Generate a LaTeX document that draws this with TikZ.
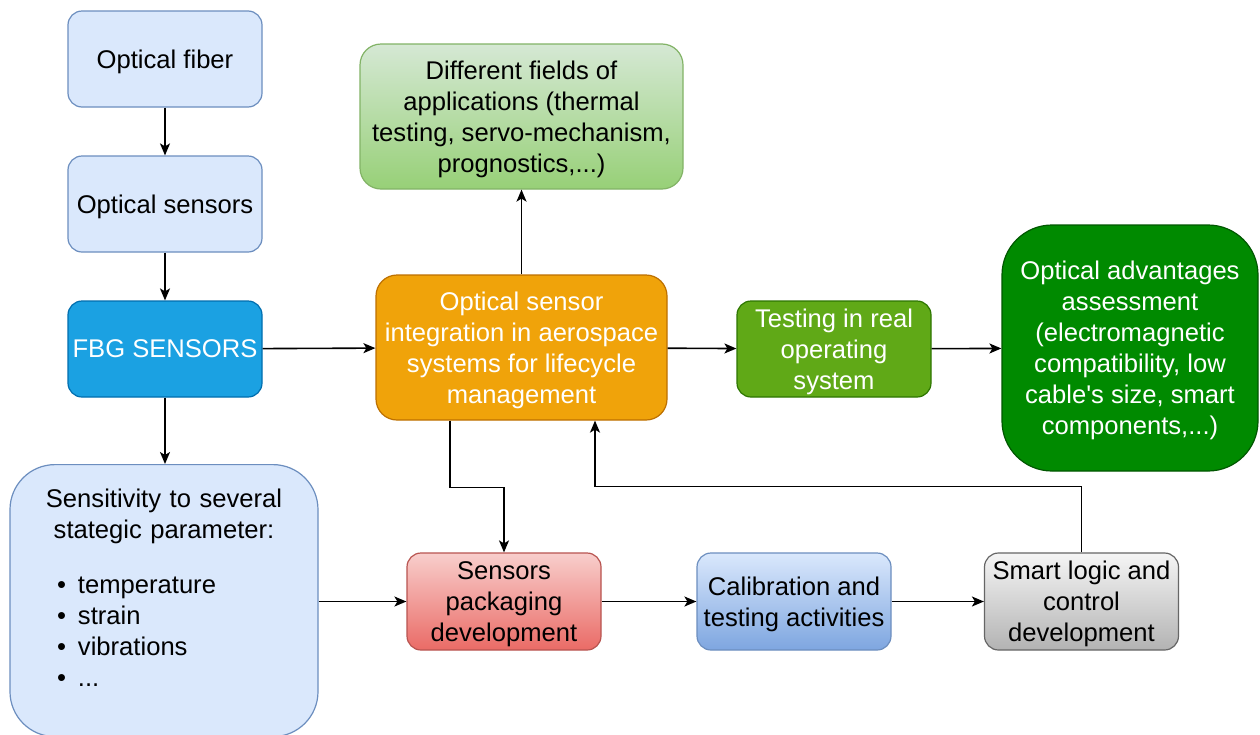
\documentclass[tikz,border=0pt]{standalone}
\usepackage{fontspec}
\setmainfont{Liberation Sans}
\usepackage{xcolor}
\usepackage{tikz}
\usetikzlibrary{arrows.meta, positioning}
\definecolor{paleblue}{HTML}{DAE8FC}
\definecolor{blueline}{HTML}{6C8EBF}
\definecolor{deepblue}{HTML}{7EA6E0}
\definecolor{fbgblue}{HTML}{1BA1E2}
\definecolor{fbgline}{HTML}{006EAF}
\definecolor{palegreen}{HTML}{D5E8D4}
\definecolor{midgreen}{HTML}{97D077}
\definecolor{greenline}{HTML}{82B366}
\definecolor{orange}{HTML}{F0A30A}
\definecolor{orangeline}{HTML}{BD7000}
\definecolor{lime}{HTML}{60A917}
\definecolor{limeline}{HTML}{2D7600}
\definecolor{darkgreen}{HTML}{008A00}
\definecolor{darkgreenline}{HTML}{005700}
\definecolor{palered}{HTML}{F8CECC}
\definecolor{midred}{HTML}{EA6B66}
\definecolor{redline}{HTML}{B85450}
\definecolor{palegrey}{HTML}{F5F5F5}
\definecolor{midgrey}{HTML}{B3B3B3}
\definecolor{greyline}{HTML}{666666}
\newcommand{\boxfont}{\fontsize{25.6pt}{31pt}\selectfont}
\tikzset{
    box/.style={rectangle, rounded corners=14pt, minimum width=194pt, minimum height=96pt, text centered, draw, line width=1.2pt, align=center, inner sep=2pt, text depth=0pt, font=\boxfont},
    bigbox/.style={box, rounded corners=21pt, minimum height=145pt},
    sensbox/.style={rectangle, rounded corners=45pt, minimum width=308pt, minimum height=272pt, text width=308pt, inner sep=0pt, align=left, draw, line width=1.2pt, font=\boxfont, fill=paleblue, draw=blueline},
    flow/.style={-{Stealth[length=12pt, width=10pt, inset=3pt]}, line width=1.6pt}
}
\begin{document}
\begin{tikzpicture}[x=1pt, y=-1pt]
    \fill[white] (0,0) rectangle (1260,734);
    \useasboundingbox (0,0) rectangle (1260,734);

    % Sensor chain
    \node[box, fill=paleblue, draw=blueline] (fiber) at (165,59) {Optical fiber};
    \node[box, fill=paleblue, draw=blueline] (osens) at (165,204) {Optical sensors};
    \node[box, fill=fbgblue, draw=fbgline, text=white] (fbg) at (165,349) {FBG SENSORS};
    \node[sensbox, anchor=north] (sens) at (164,464) {%
        {\centering Sensitivity to several\\ stategic parameter:\par}%
        \vspace{24pt}%
        \hspace*{47pt}\makebox[21pt][l]{\textbullet}temperature\\
        \hspace*{47pt}\makebox[21pt][l]{\textbullet}strain\\
        \hspace*{47pt}\makebox[21pt][l]{\textbullet}vibrations\\
        \hspace*{47pt}\makebox[21pt][l]{\textbullet}...\par
        \vspace{-5pt}\mbox{}};

    % Integration and results
    \node[bigbox, fill=orange, draw=orangeline, text=white, minimum width=291pt] (integ) at (521.5,347.5) {Optical sensor\\ integration in aerospace\\ systems for lifecycle\\ management};
    \node[bigbox, top color=palegreen, bottom color=midgreen, draw=greenline, minimum width=323pt] (fields) at (521.5,116.5) {Different fields of\\ applications (thermal\\ testing, servo-mechanism,\\ prognostics,...)};
    \node[box, fill=lime, draw=limeline, text=white] (test) at (834,349) {Testing in real\\ operating\\ system};
    \node[box, rounded corners=50pt, fill=darkgreen, draw=darkgreenline, text=white, minimum width=256pt, minimum height=246pt] (adv) at (1130,348) {Optical advantages\\ assessment\\ (electromagnetic\\ compatibility, low\\ cable\textquotesingle s size, smart\\ components,...)};

    % Development steps
    \node[box, top color=palered, bottom color=midred, draw=redline, minimum height=97pt] (pack) at (504,601.5) {Sensors\\ packaging\\ development};
    \node[box, top color=paleblue, bottom color=deepblue, draw=blueline, minimum height=97pt] (calib) at (794,601.5) {Calibration and\\ testing activities};
    \node[box, top color=palegrey, bottom color=midgrey, draw=greyline, minimum height=97pt] (smart) at (1081.5,601.5) {Smart logic and\\ control\\ development};

    % Arrows
    \draw[flow] (fiber) -- (osens);
    \draw[flow] (osens) -- (fbg);
    \draw[flow] (fbg) -- (integ);
    \draw[flow] (fbg.south) -- (fbg.south |- sens.north);
    \draw[flow] (integ) -- (fields);
    \draw[flow] (integ) -- (test);
    \draw[flow] (test) -- (adv);
    \draw[flow] ([xshift=-71.5pt]integ.south) -- ++(0,67) -| (pack.north);
    \draw[flow] (sens.east |- pack.west) -- (pack.west);
    \draw[flow] (pack) -- (calib);
    \draw[flow] (calib) -- (smart);
    \draw[flow] (smart.north) -- ++(0,-66) -| ([xshift=73.5pt]integ.south);
\end{tikzpicture}
\end{document}
